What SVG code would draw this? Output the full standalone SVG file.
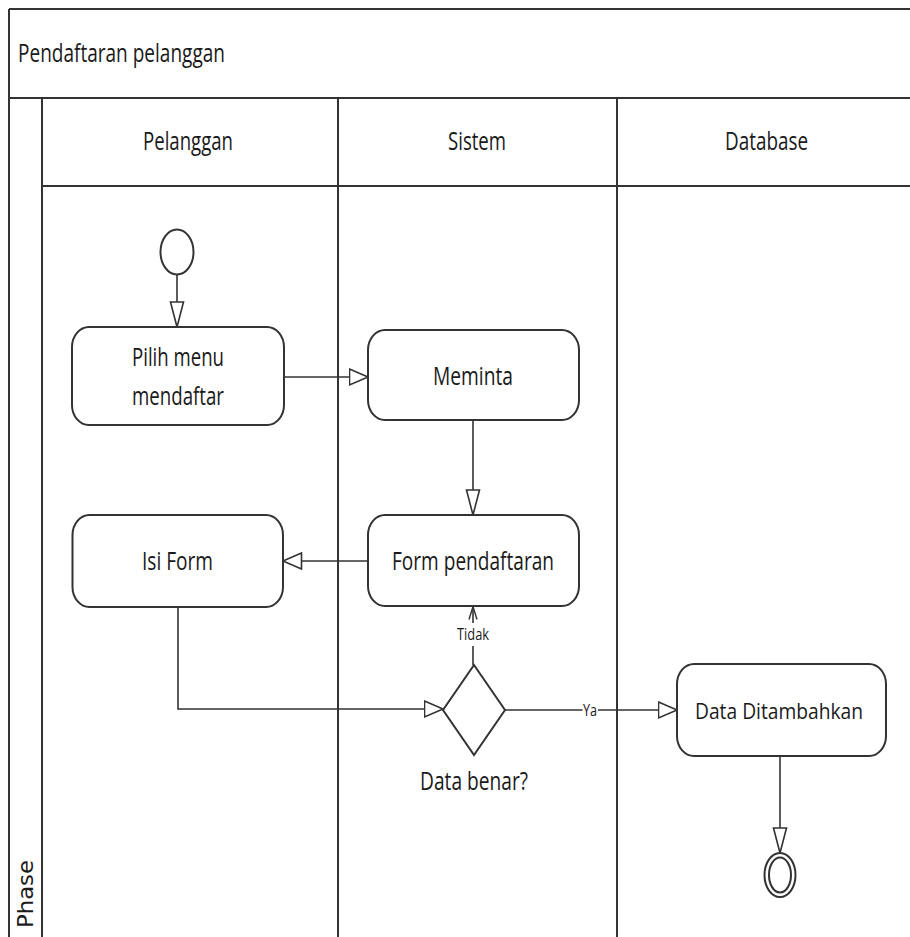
<svg xmlns="http://www.w3.org/2000/svg" width="910" height="937" viewBox="0 0 910 937">
<style>
.frame{fill:none;stroke:#333;stroke-width:2}
.node{fill:#fff;stroke:#333;stroke-width:2}
.edge{fill:none;stroke:#333;stroke-width:1.6}
.t{font-family:"Open Sans","Noto Sans","Liberation Sans",sans-serif;font-size:25px;fill:#1a1a1a;text-anchor:middle}
.s{font-family:"Open Sans","Noto Sans","Liberation Sans",sans-serif;font-size:16px;fill:#1a1a1a;text-anchor:middle}
.lbg{fill:#fff;stroke:none}
</style>
<defs>
<marker id="arrV" markerUnits="userSpaceOnUse" markerWidth="30" markerHeight="20" viewBox="0 0 30 20" refX="26" refY="10" orient="auto">
<path d="M1 3.5 L26 10 L1 16.5 Z" fill="#fff" stroke="#333" stroke-width="1.6"/>
</marker>
<marker id="arrH" markerUnits="userSpaceOnUse" markerWidth="22" markerHeight="22" viewBox="0 0 22 22" refX="19.5" refY="11" orient="auto">
<path d="M1 3 L19.5 11 L1 19 Z" fill="#fff" stroke="#333" stroke-width="1.6"/>
</marker>
<marker id="open" markerUnits="userSpaceOnUse" markerWidth="16" markerHeight="12" viewBox="0 0 16 12" refX="14" refY="6" orient="auto">
<path d="M1 2 L14 6 L1 10" fill="none" stroke="#333" stroke-width="1.4"/>
</marker>
</defs>

<g id="frame">
<path class="frame" d="M9 9 H910 M9 9 V937 M9 98 H910 M42 98 V937 M42 186 H910 M338 98 V937 M617 98 V937"/>
<text class="t" x="121.5" y="62" textLength="207" lengthAdjust="spacingAndGlyphs">Pendaftaran pelanggan</text>
<text class="t" x="188" y="150" textLength="90" lengthAdjust="spacingAndGlyphs">Pelanggan</text>
<text class="t" x="477" y="150" textLength="58" lengthAdjust="spacingAndGlyphs">Sistem</text>
<text class="t" x="766.5" y="150" textLength="83" lengthAdjust="spacingAndGlyphs">Database</text>
<text font-family="'DejaVu Sans',sans-serif" font-size="21" fill="#1a1a1a" text-anchor="middle" transform="translate(33 894) rotate(-90)" textLength="68" lengthAdjust="spacingAndGlyphs">Phase</text>
</g>

<g id="connectors">
<path class="edge" d="M177 274.5 V327" marker-end="url(#arrV)"/>
<path class="edge" d="M284 377 H368" marker-end="url(#arrH)"/>
<path class="edge" d="M473 420 V515" marker-end="url(#arrV)"/>
<path class="edge" d="M368 561 H283" marker-end="url(#arrH)"/>
<path class="edge" d="M178 607 V709 H443" marker-end="url(#arrH)"/>
<path class="edge" d="M473 665 V606.5" marker-end="url(#open)"/>
<rect class="lbg" x="456" y="623" width="34" height="23"/>
<text class="s" x="473" y="640" textLength="32" lengthAdjust="spacingAndGlyphs">Tidak</text>
<path class="edge" d="M505 710 H677" marker-end="url(#arrH)"/>
<rect class="lbg" x="582.5" y="701" width="15.5" height="19"/>
<text class="s" x="590" y="716" textLength="14" lengthAdjust="spacingAndGlyphs">Ya</text>
<path class="edge" d="M780 756 V853" marker-end="url(#arrV)"/>
</g>

<g id="start">
<ellipse class="node" cx="177" cy="252" rx="16.5" ry="22.5"/>
</g>

<g id="pilih-menu">
<rect class="node" x="72" y="327" width="212" height="98" rx="17" ry="20"/>
<text class="t" x="178" y="366" textLength="92" lengthAdjust="spacingAndGlyphs">Pilih menu</text>
<text class="t" x="178" y="405" textLength="92" lengthAdjust="spacingAndGlyphs">mendaftar</text>
</g>

<g id="meminta">
<rect class="node" x="368" y="330" width="211" height="90" rx="17" ry="20"/>
<text class="t" x="473" y="385" textLength="80" lengthAdjust="spacingAndGlyphs">Meminta</text>
</g>

<g id="form-pendaftaran">
<rect class="node" x="368" y="515" width="211" height="91" rx="17" ry="20"/>
<text class="t" x="473" y="570" textLength="162" lengthAdjust="spacingAndGlyphs">Form pendaftaran</text>
</g>

<g id="isi-form">
<rect class="node" x="72.5" y="515" width="210.5" height="92" rx="17" ry="20"/>
<text class="t" x="177.5" y="570" textLength="71" lengthAdjust="spacingAndGlyphs">Isi Form</text>
</g>

<g id="decision">
<polygon class="node" points="474,665 505,710 474,755 443,710"/>
<text class="t" x="474" y="790" textLength="108" lengthAdjust="spacingAndGlyphs">Data benar?</text>
</g>

<g id="data-ditambahkan">
<rect class="node" x="677" y="664" width="209" height="92" rx="17" ry="20"/>
<text class="t" x="779" y="719" style="font-size:21px" textLength="168" lengthAdjust="spacingAndGlyphs">Data Ditambahkan</text>
</g>

<g id="end">
<ellipse class="node" cx="780" cy="875" rx="15.5" ry="22"/>
<ellipse class="node" cx="780" cy="875" rx="11" ry="17.5"/>
</g>
</svg>
